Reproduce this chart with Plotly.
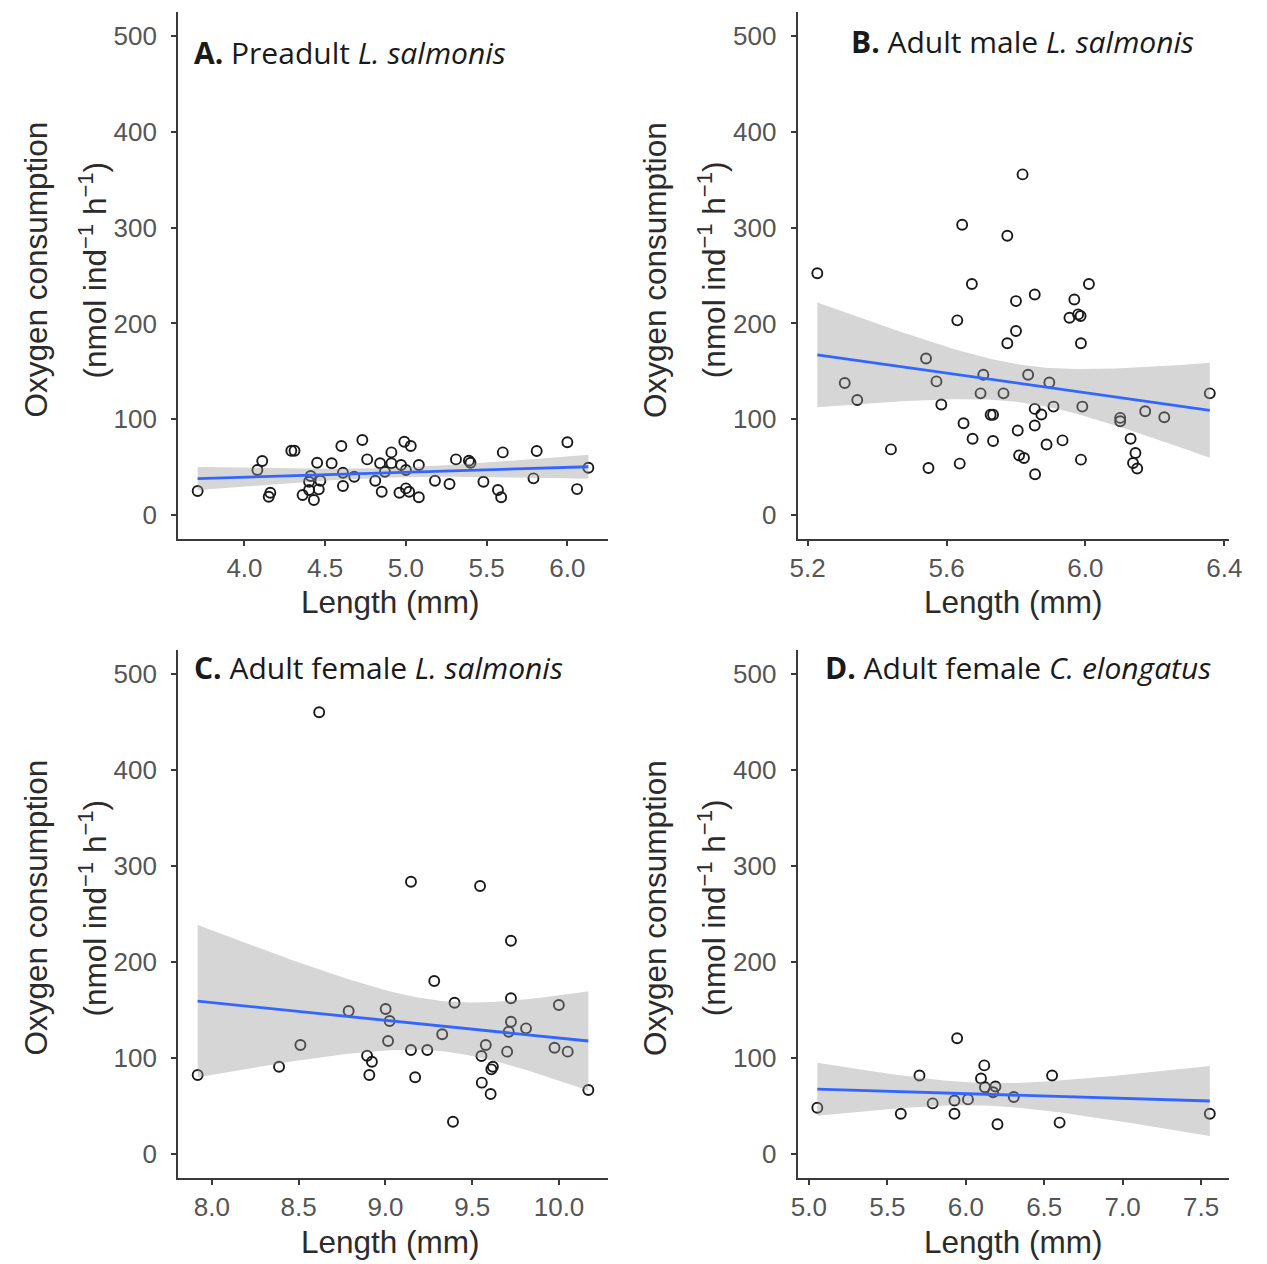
import numpy as np
import plotly.graph_objects as go

# ---------------- data ----------------
A_len = [3.71, 4.08, 4.11, 4.15, 4.16, 4.29, 4.31, 4.36, 4.40, 4.40, 4.41, 4.43, 4.45, 4.46, 4.47,
         4.54, 4.60, 4.61, 4.61, 4.68, 4.73, 4.76, 4.81, 4.84, 4.85, 4.87, 4.91, 4.91, 4.97, 4.96,
         4.99, 5.00, 5.00, 5.02, 5.03, 5.08, 5.08, 5.18, 5.27, 5.31, 5.39, 5.40, 5.48, 5.57, 5.59,
         5.60, 5.79, 5.81, 6.00, 6.06, 6.13]
A_o2 = [25.1, 47.0, 56.4, 19.1, 23.3, 67.1, 67.1, 20.9, 26.1, 34.8, 40.7, 15.7, 54.6, 26.8, 35.8,
        54.0, 72.0, 30.3, 44.2, 40.0, 78.3, 58.1, 35.8, 54.0, 24.3, 45.2, 65.4, 54.0, 52.2, 23.3,
        76.5, 47.0, 27.8, 24.3, 72.0, 18.5, 52.2, 35.8, 32.4, 58.1, 56.7, 54.6, 34.8, 26.1, 18.5,
        65.4, 38.3, 66.8, 75.9, 27.1, 49.4]

B_len = [5.228, 5.307, 5.343, 5.440, 5.541, 5.548, 5.571, 5.585, 5.631, 5.638, 5.645, 5.649, 5.673,
         5.675, 5.698, 5.706, 5.727, 5.734, 5.734, 5.764, 5.775, 5.775, 5.800, 5.800, 5.805, 5.809,
         5.819, 5.823, 5.835, 5.854, 5.854, 5.854, 5.855, 5.873, 5.888, 5.896, 5.908, 5.934, 5.954,
         5.968, 5.979, 5.986, 5.987, 5.987, 5.991, 6.010, 6.100, 6.100, 6.130, 6.137, 6.144, 6.149,
         6.172, 6.227, 6.358]
B_o2 = [252.3, 137.8, 120.0, 68.5, 163.3, 49.1, 139.5, 115.3, 203.2, 53.7, 302.9, 95.8, 241.2,
        79.6, 127.0, 146.4, 104.6, 104.6, 77.2, 127.0, 291.5, 179.3, 223.3, 192.1, 88.3, 62.3,
        355.5, 59.5, 146.4, 230.2, 110.8, 93.5, 42.6, 104.9, 73.7, 138.4, 113.2, 77.9, 205.9,
        225.0, 209.4, 207.7, 179.3, 57.8, 113.2, 241.2, 101.4, 97.9, 79.6, 54.3, 64.7, 48.5,
        108.3, 102.1, 127.0]

C_len = [7.918, 8.387, 8.510, 8.618, 8.788, 8.894, 8.907, 8.922, 9.001, 9.015, 9.024, 9.147, 9.147,
         9.171, 9.241, 9.281, 9.327, 9.389, 9.398, 9.545, 9.553, 9.555, 9.578, 9.606, 9.610, 9.619,
         9.701, 9.710, 9.723, 9.723, 9.723, 9.810, 9.974, 9.999, 10.050, 10.169]
C_o2 = [82.3, 90.9, 113.5, 460.1, 149.0, 102.4, 82.3, 96.1, 151.0, 117.7, 138.5, 283.6, 108.3,
        79.9, 108.3, 180.2, 124.7, 33.6, 157.6, 279.2, 102.1, 74.3, 113.5, 62.5, 88.2, 90.9,
        106.6, 127.4, 222.2, 162.2, 137.8, 130.9, 110.7, 155.2, 106.6, 66.7]

D_len = [5.054, 5.586, 5.705, 5.789, 5.928, 5.928, 5.945, 6.014, 6.097, 6.118, 6.122, 6.174, 6.189,
         6.202, 6.306, 6.550, 6.598, 7.555]
D_o2 = [48.2, 42.0, 81.7, 52.7, 55.8, 42.0, 120.6, 56.9, 78.6, 92.3, 69.6, 64.4, 70.3, 31.0, 59.3,
        81.7, 32.7, 42.0]

A_ticks = [4.0, 4.5, 5.0, 5.5, 6.0]
B_ticks = [5.2, 5.6, 6.0, 6.4]
C_ticks = [8.0, 8.5, 9.0, 9.5, 10.0]
D_ticks = [5.0, 5.5, 6.0, 6.5, 7.0, 7.5]
y_ticks = [0, 100, 200, 300, 400, 500]

titles = ["<b>A.</b> Preadult <i>L. salmonis</i>",
          "<b>B.</b> Adult male <i>L. salmonis</i>",
          "<b>C.</b> Adult female <i>L. salmonis</i>",
          "<b>D.</b> Adult female <i>C. elongatus</i>"]

# ---------------- layout helpers ----------------
W, H = 1267, 1264
def px(x):
    return x / W
def py(y):
    return 1 - y / H

col_dom = [[px(173), px(610)], [px(803), px(1242)]]
row_dom = [[py(539), py(12)], [py(1178), py(650)]]


def t975(df):
    z = 1.959964
    return z + (z**3 + z) / (4 * df) + (5 * z**5 + 16 * z**3 + 3 * z) / (96 * df**2)


def lm_band(x, y, n=80):
    x = np.asarray(x, float)
    y = np.asarray(y, float)
    b1, b0 = np.polyfit(x, y, 1)
    xs = np.linspace(x.min(), x.max(), n)
    fit = b0 + b1 * xs
    resid = y - (b0 + b1 * x)
    dof = len(x) - 2
    s = np.sqrt(np.sum(resid**2) / dof)
    se = s * np.sqrt(1 / len(x) + (xs - x.mean())**2 / np.sum((x - x.mean())**2))
    tq = t975(dof)
    return xs, fit, fit - tq * se, fit + tq * se


panels = [
    (A_len, A_o2, A_ticks, 0, 0),
    (B_len, B_o2, B_ticks, 0, 1),
    (C_len, C_o2, C_ticks, 1, 0),
    (D_len, D_o2, D_ticks, 1, 1),
]

fig = go.Figure()
AXIS_COL = "#3a3a3a"
TICK_FONT = dict(family="Arial", size=26, color="#555555")

for i, (xv, yv, xt, r, c) in enumerate(panels):
    k = "" if i == 0 else str(i + 1)
    xa, ya = "x" + k, "y" + k
    # points
    fig.add_trace(go.Scatter(x=xv, y=yv, mode="markers", xaxis=xa, yaxis=ya,
                             marker=dict(symbol="circle-open", size=10, color="#1a1a1a",
                                         line=dict(width=1.9, color="#1a1a1a")),
                             showlegend=False, hoverinfo="x+y"))
    xs, fit, lo, hi = lm_band(xv, yv)
    fig.add_trace(go.Scatter(x=xs, y=lo, mode="lines", line=dict(width=0), xaxis=xa, yaxis=ya,
                             showlegend=False, hoverinfo="skip"))
    fig.add_trace(go.Scatter(x=xs, y=hi, mode="lines", line=dict(width=0), fill="tonexty",
                             fillcolor="rgba(153,153,153,0.4)", xaxis=xa, yaxis=ya,
                             showlegend=False, hoverinfo="skip"))
    fig.add_trace(go.Scatter(x=xs, y=fit, mode="lines", line=dict(color="#3366FF", width=2.8),
                             xaxis=xa, yaxis=ya, showlegend=False, hoverinfo="skip"))

    span = max(xv) - min(xv)
    xr = [min(xv) - 0.05 * span, max(xv) + 0.05 * span]
    axis_common = dict(showline=True, linecolor=AXIS_COL, linewidth=2, ticks="outside",
                       ticklen=5, tickwidth=2, tickcolor=AXIS_COL, showgrid=False,
                       zeroline=False, tickfont=TICK_FONT, mirror=False)
    fig.layout["xaxis" + k] = dict(domain=col_dom[c], range=xr, tickvals=xt,
                                   ticktext=["%.1f" % v for v in xt], anchor=ya, **axis_common)
    fig.layout["yaxis" + k] = dict(domain=row_dom[r], range=[-25, 525], tickvals=y_ticks,
                                   anchor=xa, ticklabelstandoff=9, **axis_common)

# ---------------- text ----------------
ann = []
TITLE_FONT = dict(family="Arial", size=31.5, color="#2b2b2b")
PANEL_FONT = dict(family="Open Sans", size=30, color="#1a1a1a")

title_pos = [(187, 52), (855, 42), (187, 667), (829, 667)]
for t, (tx, ty) in zip(titles, title_pos):
    ann.append(dict(text=t, x=px(tx), y=py(ty), xref="paper", yref="paper",
                    xanchor="left", yanchor="middle", showarrow=False, font=PANEL_FONT))

xlab_pos = [(389, 602), (1022, 602), (389, 1242), (1022, 1242)]
for (tx, ty) in xlab_pos:
    ann.append(dict(text="Length (mm)", x=px(tx), y=py(ty), xref="paper", yref="paper",
                    xanchor="center", yanchor="middle", showarrow=False, font=TITLE_FONT))

ylab_pos = [(28, 86, 270), (658, 716, 270), (28, 86, 908), (658, 716, 908)]
for (x1, x2, ty) in ylab_pos:
    ann.append(dict(text="Oxygen consumption", x=px(x1), y=py(ty), xref="paper", yref="paper",
                    xanchor="center", yanchor="middle", textangle=-90, showarrow=False,
                    font=TITLE_FONT))
    ann.append(dict(text="(nmol ind<sup>−1</sup> h<sup>−1</sup>)", x=px(x2), y=py(ty),
                    xref="paper", yref="paper", xanchor="center", yanchor="middle",
                    textangle=-90, showarrow=False, font=TITLE_FONT))

fig.update_layout(width=W, height=H, margin=dict(l=0, r=0, t=0, b=0),
                  paper_bgcolor="white", plot_bgcolor="white", annotations=ann,
                  showlegend=False)

fig.write_html("out.html")
